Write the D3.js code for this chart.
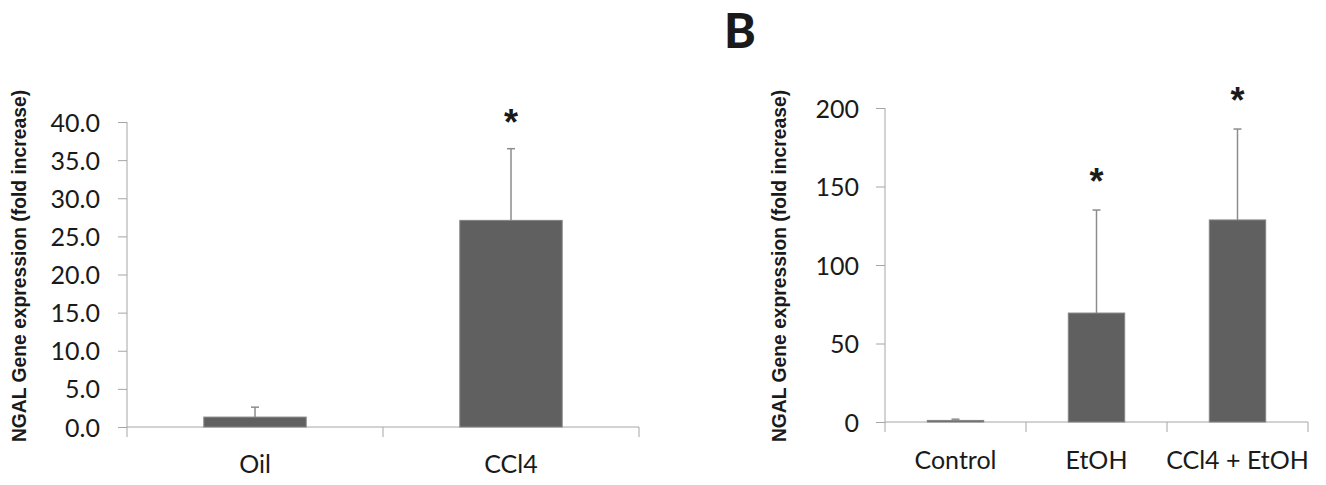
<!DOCTYPE html>
<html>
<head>
<meta charset="utf-8">
<title>NGAL Gene expression</title>
<style>
  body { margin: 0; background: #fff; }
  svg text { fill: #1a1a1a; }
  .tick text { font-family: Lato, "Open Sans", sans-serif; font-size: 25px; }
  .catLabel { font-family: Lato, "Open Sans", sans-serif; font-size: 25px; text-anchor: middle; }
  .yTitle { font-family: "Liberation Sans", Arial, sans-serif; font-weight: bold; font-size: 19.3px; text-anchor: middle; }
  .star { font-family: "Liberation Sans", Arial, sans-serif; font-weight: bold; font-size: 36px; text-anchor: middle; }
  .panelLetter { font-family: Lato, "Liberation Sans", sans-serif; font-weight: 900; font-size: 48px; }
</style>
<script src="https://cdnjs.cloudflare.com/ajax/libs/d3/7.8.5/d3.min.js"></script>
</head>
<body>
<svg id="chart" width="1326" height="485"></svg>
<script>
// panel A
var categoriesA = ["Oil", "CCl4"];
var meansA = [1.3, 27.1];
var errorsA = [1.3, 9.4];
var starsA = [false, true];
var ticksA = [0, 5, 10, 15, 20, 25, 30, 35, 40];

// panel B
var categoriesB = ["Control", "EtOH", "CCl4 + EtOH"];
var meansB = [1.0, 69.4, 128.7];
var errorsB = [0.8, 65.6, 57.9];
var starsB = [false, true, true];
var ticksB = [0, 50, 100, 150, 200];

var yTitle = "NGAL Gene expression (fold increase)";

var svg = d3.select("#chart");

function drawPanel(opt)
{
    var g = svg.append("g");

    var x = d3.scaleBand()
        .domain(opt.categories)
        .range([opt.left, opt.right])
        .paddingInner(0.6)
        .paddingOuter(0.3);

    var y = d3.scaleLinear()
        .domain([0, d3.max(opt.ticks)])
        .range([opt.bottom, opt.top]);

    // y axis ticks + labels
    var yAxis = d3.axisLeft(y)
        .tickValues(opt.ticks)
        .tickSize(9)
        .tickPadding(opt.labelGap)
        .tickFormat(d3.format(opt.fmt));

    var ya = g.append("g")
        .attr("transform", "translate(" + opt.left + ",0)")
        .call(yAxis);
    ya.select(".domain").remove();
    ya.selectAll(".tick line").attr("stroke", "#a6a6a6").attr("stroke-width", 1);
    ya.selectAll(".tick text").attr("fill", "#1a1a1a").attr("dy", "0.36em");

    // axis lines
    g.append("line")
        .attr("x1", opt.left).attr("x2", opt.left)
        .attr("y1", y(d3.max(opt.ticks))).attr("y2", opt.bottom + 10)
        .attr("stroke", "#a6a6a6");
    g.append("line")
        .attr("x1", opt.left).attr("x2", opt.right)
        .attr("y1", opt.bottom).attr("y2", opt.bottom)
        .attr("stroke", "#a6a6a6");

    // category boundary ticks
    var bounds = d3.range(1, opt.categories.length + 1).map(function(i) { return opt.left + i * x.step(); });
    g.selectAll(".bound")
        .data(bounds)
        .enter()
        .append("line")
        .attr("x1", function(d) { return d; })
        .attr("x2", function(d) { return d; })
        .attr("y1", opt.bottom)
        .attr("y2", opt.bottom + 10)
        .attr("stroke", "#a6a6a6");

    // error bars
    var err = g.selectAll(".err")
        .data(opt.categories)
        .enter()
        .append("g");
    err.append("line")
        .attr("x1", function(d) { return x(d) + x.bandwidth() / 2; })
        .attr("x2", function(d) { return x(d) + x.bandwidth() / 2; })
        .attr("y1", function(d, i) { return y(opt.means[i]); })
        .attr("y2", function(d, i) { return y(opt.means[i] + opt.errors[i]); })
        .attr("stroke", "#8c8c8c")
        .attr("stroke-width", 1.5);
    err.append("line")
        .attr("x1", function(d) { return x(d) + x.bandwidth() / 2 - 4; })
        .attr("x2", function(d) { return x(d) + x.bandwidth() / 2 + 4; })
        .attr("y1", function(d, i) { return y(opt.means[i] + opt.errors[i]); })
        .attr("y2", function(d, i) { return y(opt.means[i] + opt.errors[i]); })
        .attr("stroke", "#8c8c8c")
        .attr("stroke-width", 1.5);

    // bars
    g.selectAll(".bar")
        .data(opt.categories)
        .enter()
        .append("rect")
        .attr("x", function(d) { return x(d); })
        .attr("y", function(d, i) { return y(opt.means[i]); })
        .attr("width", x.bandwidth())
        .attr("height", function(d, i) { return opt.bottom - y(opt.means[i]); })
        .attr("fill", "#606060")
        .attr("stroke", "#858585")
        .attr("stroke-width", 1);

    // significance stars
    g.selectAll(".star")
        .data(opt.categories.filter(function(d, i) { return opt.stars[i]; }))
        .enter()
        .append("text")
        .attr("class", "star")
        .attr("x", function(d) { return x(d) + x.bandwidth() / 2; })
        .attr("y", function(d) {
            var i = opt.categories.indexOf(d);
            return y(opt.means[i] + opt.errors[i]) - opt.starGap + 20;
        })
        .text("*");

    // category labels
    g.selectAll(".catLabel")
        .data(opt.categories)
        .enter()
        .append("text")
        .attr("class", "catLabel")
        .attr("x", function(d) { return x(d) + x.bandwidth() / 2; })
        .attr("y", opt.labelY)
        .text(function(d) { return d; });

    // y title
    g.append("text")
        .attr("class", "yTitle")
        .attr("transform", "translate(" + opt.titleX + "," + 266 + ") rotate(-90)")
        .text(yTitle);
}

drawPanel({
    categories: categoriesA, means: meansA, errors: errorsA, stars: starsA,
    ticks: ticksA, fmt: ".1f",
    left: 127, right: 639, top: 122, bottom: 427,
    labelGap: 18, labelY: 473, titleX: 26, starGap: 34
});

drawPanel({
    categories: categoriesB, means: meansB, errors: errorsB, stars: starsB,
    ticks: ticksB, fmt: "d",
    left: 885, right: 1308, top: 108, bottom: 422,
    labelGap: 17, labelY: 469, titleX: 786, starGap: 36
});

svg.append("text")
    .attr("class", "panelLetter")
    .attr("x", 724)
    .attr("y", 48)
    .text("B");
</script>
</body>
</html>
